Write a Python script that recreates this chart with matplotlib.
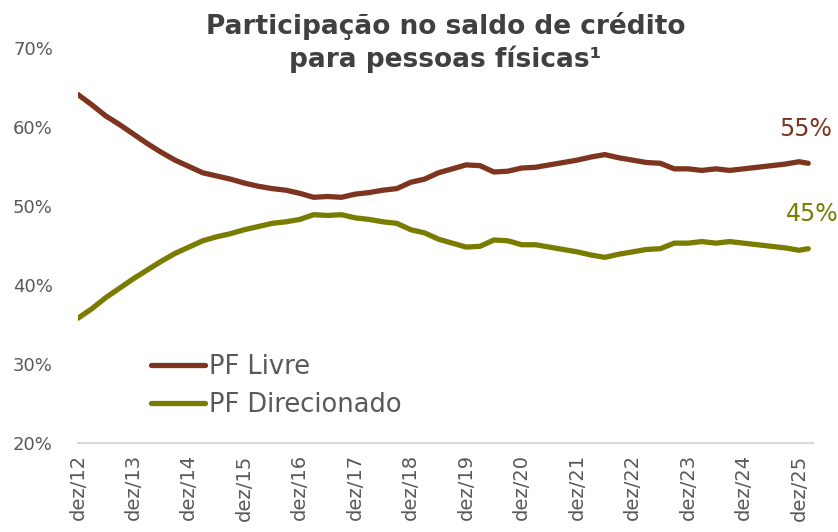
import numpy as np
import matplotlib.pyplot as plt

# quarterly readings, month index counted from dez/12
months = [0, 3, 6, 9, 12, 15, 18, 21, 24, 27, 30, 33, 36, 39, 42, 45, 48, 51, 54, 57,
          60, 63, 66, 69, 72, 75, 78, 81, 84, 87, 90, 93, 96, 99, 102, 105, 108, 111,
          114, 117, 120, 123, 126, 129, 132, 135, 138, 141, 144, 147, 150, 153, 156, 158]

pf_livre = [64.1, 62.8, 61.4, 60.3, 59.1, 57.9, 56.8, 55.8, 55.0, 54.2, 53.8, 53.4,
            52.9, 52.5, 52.2, 52.0, 51.6, 51.1, 51.2, 51.1, 51.5, 51.7, 52.0, 52.2,
            53.0, 53.4, 54.2, 54.7, 55.2, 55.1, 54.3, 54.4, 54.8, 54.9, 55.2, 55.5,
            55.8, 56.2, 56.5, 56.1, 55.8, 55.5, 55.4, 54.7, 54.7, 54.5, 54.7, 54.5,
            54.7, 54.9, 55.1, 55.3, 55.6, 55.4]

pf_direcionado = [35.8, 37.0, 38.4, 39.6, 40.8, 41.9, 43.0, 44.0, 44.8, 45.6, 46.1, 46.5,
                  47.0, 47.4, 47.8, 48.0, 48.3, 48.9, 48.8, 48.9, 48.5, 48.3, 48.0, 47.8,
                  47.0, 46.6, 45.8, 45.3, 44.8, 44.9, 45.7, 45.6, 45.1, 45.1, 44.8, 44.5,
                  44.2, 43.8, 43.5, 43.9, 44.2, 44.5, 44.6, 45.3, 45.3, 45.5, 45.3, 45.5,
                  45.3, 45.1, 44.9, 44.7, 44.4, 44.6]

tick_months = list(range(0, 157, 12))
tick_labels = ['dez/12', 'dez/13', 'dez/14', 'dez/15', 'dez/16', 'dez/17', 'dez/18',
               'dez/19', 'dez/20', 'dez/21', 'dez/22', 'dez/23', 'dez/24', 'dez/25']

brown = '#7d3520'
olive = '#7a7c00'
gray = '#595959'

plt.rcParams['font.family'] = ['DejaVu Sans']

fig = plt.figure(figsize=(8.38, 5.32), dpi=100)
ax = fig.add_axes([0.093, 0.167, 0.877, 0.743])

ax.plot(months, pf_livre, color=brown, lw=3.8, solid_capstyle='round', label='PF Livre')
ax.plot(months, pf_direcionado, color=olive, lw=3.8, solid_capstyle='round',
        label='PF Direcionado')

ax.set_ylim(20, 70)
ax.set_xlim(0, 159)
ax.set_yticks(range(20, 71, 10))
ax.set_yticklabels([f'{v}%' for v in range(20, 71, 10)])
ax.set_xticks(tick_months)
ax.set_xticklabels(tick_labels, rotation=90)
ax.tick_params(axis='y', length=0, pad=18, labelsize=13, labelcolor=gray)
ax.tick_params(axis='x', length=0, pad=8, labelsize=14, labelcolor=gray)

for s in ['top', 'right', 'left']:
    ax.spines[s].set_visible(False)
ax.spines['bottom'].set_color('#d9d9d9')
ax.spines['bottom'].set_linewidth(1.5)

# end labels
ax.text(months[-1] - 0.5, 59.7, '55%', color=brown, fontsize=17, ha='center', va='center')
ax.text(months[-1] + 0.8, 49.0, '45%', color=olive, fontsize=17, ha='center', va='center')

ax.text(0.5, 1.09, 'Participação no saldo de crédito\npara pessoas físicas¹',
        transform=ax.transAxes, ha='center', va='top', fontsize=19, fontweight='bold',
        color='#404040', linespacing=1.25)

leg = ax.legend(loc='upper left', bbox_to_anchor=(0.068, 0.285), frameon=False,
                fontsize=18.5, handlelength=2.1, handletextpad=0.15, labelspacing=0.5)
for t in leg.get_texts():
    t.set_color(gray)

fig.savefig('out.png', dpi=100)
